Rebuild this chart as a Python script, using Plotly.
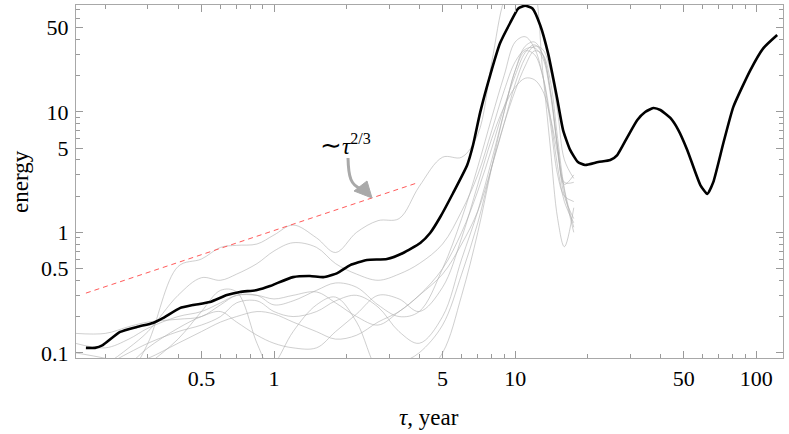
import numpy as np
import plotly.graph_objects as go

# ---------------- data ----------------
black_x = [0.166, 0.181, 0.195, 0.230, 0.270, 0.315, 0.346, 0.407, 0.461, 0.542, 0.638, 0.723,
           0.850, 0.963, 1.029, 1.199, 1.41, 1.60, 1.83, 2.07, 2.43, 2.94, 3.43, 4.04, 4.44, 4.89,
           5.53, 6.32, 6.69, 7.16, 7.88, 8.66, 9.53, 10.3, 11.0, 11.8, 12.7, 13.7, 14.9, 15.8,
           16.9, 18.2, 19.5, 22.1, 24.8, 26.5, 29.2, 32.1, 34.6, 37.4, 40.0, 44.0, 47.5, 51.7,
           58.6, 62.6, 66.3, 73.0, 80.3, 94.5, 107, 122]
black_y = [0.110, 0.110, 0.116, 0.149, 0.164, 0.177, 0.194, 0.235, 0.249, 0.264, 0.302, 0.320,
           0.332, 0.358, 0.379, 0.425, 0.434, 0.425, 0.459, 0.535, 0.590, 0.601, 0.673, 0.815,
           0.987, 1.34, 2.12, 3.6, 5.3, 9.9, 20.2, 37.2, 54.6, 72.0, 76.0, 72.0, 52.3, 30.4,
           13.2, 7.06, 4.83, 3.83, 3.62, 3.83, 3.98, 4.38, 6.17, 8.55, 9.96, 10.75, 10.36, 8.89,
           7.06, 4.83, 2.47, 2.08, 2.61, 5.51, 11.0, 22.2, 33.8, 43.4]

gray_x = [0.15, 0.2, 0.25, 0.3, 0.4, 0.5, 0.6, 0.7, 0.85, 1.0, 1.2, 1.5, 1.8, 2.2, 2.7, 3.3,
          4, 5, 6, 7, 8, 9, 10, 11, 12, 13, 14, 15, 16, 17.5]
gray_1 = [0.03, 0.045, 0.065, 0.12, 0.52, 0.6, 0.75, 0.78, 0.8, 0.95, 1.15, 0.9, 0.68, 1.0, 1.25,
          1.3, 2.4, 4.2, 4.2, 6.5, 26, 85, 130, 150, 110, 22, 5, 1.3, 0.76, 1.6]
gray_2 = [0.145, 0.145, 0.165, 0.18, 0.19, 0.2, 0.25, 0.3, 0.3, 0.25, 0.27, 0.33, 0.38, 0.35,
          0.25, 0.2, 0.22, 0.5, 1.3, 3.5, 9, 20, 38, 42, 34, 20, 8, 3, 2.0, 1.8]
gray_3 = [0.12, 0.11, 0.13, 0.16, 0.2, 0.22, 0.26, 0.3, 0.3, 0.28, 0.3, 0.32, 0.26, 0.2, 0.17,
          0.22, 0.3, 0.5, 1.0, 2.2, 5, 11, 20, 31, 36, 30, 15, 5, 2.2, 1.0]
gray_4 = [0.1, 0.09, 0.08, 0.09, 0.12, 0.15, 0.18, 0.2, 0.22, 0.21, 0.18, 0.15, 0.13, 0.14,
          0.18, 0.22, 0.3, 0.45, 0.8, 1.5, 3.5, 8, 17, 28, 35, 33, 22, 10, 4, 2.8]
gray_5 = [0.07, 0.08, 0.1, 0.12, 0.15, 0.17, 0.2, 0.26, 0.27, 0.22, 0.2, 0.22, 0.27, 0.3, 0.24,
          0.15, 0.12, 0.2, 0.6, 1.5, 4, 10, 22, 32, 30, 20, 9, 3.5, 1.8, 1.2]
gray_6 = [0.05, 0.06, 0.08, 0.11, 0.16, 0.2, 0.22, 0.18, 0.14, 0.12, 0.11, 0.11, 0.15, 0.21,
          0.3, 0.28, 0.22, 0.35, 0.9, 2.5, 6, 11, 16, 19, 18.5, 15, 9, 4.5, 2.5, 3.0]
gray_7 = [0.04, 0.05, 0.06, 0.08, 0.13, 0.22, 0.33, 0.32, 0.12, 0.06, 0.04, 0.04, 0.05, 0.05,
          0.06, 0.08, 0.1, 0.17, 0.45, 1.2, 3.5, 8, 15, 24, 32, 30, 18, 6, 2.3, 1.1]
gray_8 = [0.05, 0.05, 0.05, 0.05, 0.05, 0.05, 0.05, 0.05, 0.06, 0.08, 0.15, 0.25, 0.29, 0.18,
          0.07, 0.05, 0.06, 0.1, 0.3, 1.0, 3.5, 10, 22, 35, 38, 30, 15, 5, 2.0, 1.3]
gray_9 = [0.06, 0.08, 0.11, 0.15, 0.3, 0.42, 0.4, 0.45, 0.55, 0.7, 0.82, 0.75, 0.55, 0.45, 0.4,
          0.45, 0.55, 0.8, 1.5, 3, 7, 15, 26, 33, 34, 28, 14, 5, 2.6, 2.6]
gray_series = [gray_1, gray_2, gray_3, gray_4, gray_5, gray_6, gray_7, gray_8, gray_9]

fit_x = [0.166, 3.92]
fit_y = [0.313, 2.57]

x_tickvals = [0.5, 1, 5, 10, 50, 100]
x_ticktext = ["0.5", "1", "5", "10", "50", "100"]
y_tickvals = [0.1, 0.5, 1, 5, 10, 50]
y_ticktext = ["0.1", "0.5", "1", "5", "10", "50"]
x_minor = [0.2, 0.3, 0.4, 0.6, 0.7, 0.8, 0.9, 2, 3, 4, 6, 7, 8, 9, 20, 30, 40, 60, 70, 80, 90]
y_minor = [0.2, 0.3, 0.4, 0.6, 0.7, 0.8, 0.9, 2, 3, 4, 6, 7, 8, 9, 20, 30, 40, 60, 70]

FONT = "Liberation Serif"

fig = go.Figure()
for g in gray_series:
    fig.add_trace(go.Scatter(x=gray_x, y=g, mode="lines",
                             line=dict(color="rgba(175,175,175,0.6)", width=1, shape="spline", smoothing=1.0),
                             hoverinfo="skip"))
fig.add_trace(go.Scatter(x=fit_x, y=fit_y, mode="lines",
                         line=dict(color="rgb(255,90,90)", width=1, dash="5px,4px")))
fig.add_trace(go.Scatter(x=black_x, y=black_y, mode="lines",
                         line=dict(color="black", width=2.6, shape="spline", smoothing=0.5)))

axis_common = dict(type="log", ticks="inside", ticklen=7, tickwidth=1, tickcolor="#9a9a9a",
                   showline=True, linecolor="#a8a8a8", linewidth=1, mirror="allticks",
                   showgrid=False, zeroline=False,
                   tickfont=dict(family=FONT, size=22, color="black"))

fig.update_xaxes(range=[np.log10(0.151), np.log10(129)], tickmode="array",
                 tickvals=x_tickvals, ticktext=x_ticktext, ticklabelstandoff=1,
                 minor=dict(tickmode="array", tickvals=x_minor, ticks="inside", ticklen=4,
                            tickcolor="#9a9a9a", showgrid=False),
                 **axis_common)
fig.update_yaxes(range=[np.log10(0.0906), np.log10(77)], tickmode="array",
                 tickvals=y_tickvals, ticktext=y_ticktext, ticklabelstandoff=2,
                 minor=dict(tickmode="array", tickvals=y_minor, ticks="inside", ticklen=4,
                            tickcolor="#9a9a9a", showgrid=False),
                 **axis_common)

# paper-coordinate helpers for decorations (plot area 76..783 x 5..358 px)
def px(xp):
    return (xp - 76) / 707.0

def py(yp):
    return (358 - yp) / 353.0

annotations = [
    dict(text="energy", xref="paper", yref="paper", x=px(20), y=py(182), textangle=-90,
         showarrow=False, font=dict(family=FONT, size=23, color="black"),
         xanchor="center", yanchor="middle"),
    dict(text="<i>τ</i>, year", xref="paper", yref="paper", x=px(429), y=py(417),
         showarrow=False, font=dict(family=FONT, size=23, color="black"),
         xanchor="center", yanchor="middle"),
    dict(text="<span style='font-size:26px'>∼</span><i>τ</i><sup>2/3</sup>", xref="paper",
         yref="paper", x=px(345), y=py(145),
         showarrow=False, font=dict(family=FONT, size=23, color="black"),
         xanchor="center", yanchor="middle"),
]

shapes = [
    dict(type="path", xref="paper", yref="paper",
         path=f"M {px(348)},{py(158)} C {px(348.5)},{py(178)} {px(351)},{py(185)} {px(361)},{py(189)}",
         line=dict(color="#a9a9a9", width=3)),
    dict(type="path", xref="paper", yref="paper",
         path=f"M {px(354)},{py(191)} L {px(367)},{py(181)} L {px(372)},{py(198)} Z",
         line=dict(color="#a9a9a9", width=1), fillcolor="#a9a9a9"),
]

fig.update_layout(width=789, height=434, margin=dict(l=76, r=6, t=5, b=76),
                  plot_bgcolor="white", paper_bgcolor="white", showlegend=False,
                  font=dict(family=FONT, size=22, color="black"),
                  annotations=annotations, shapes=shapes)

fig.write_html("out.html", config={"displayModeBar": False},
               post_script="document.body.style.margin='0px';document.body.style.overflow='hidden';")
